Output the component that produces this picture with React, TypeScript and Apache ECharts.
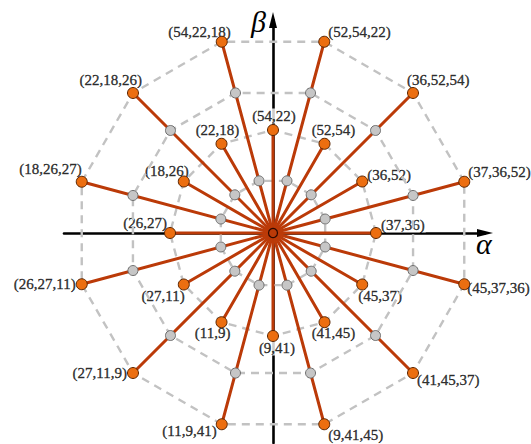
import React, { useEffect, useRef } from "react";
import * as echarts from "echarts";

// Two-element tuples sit on the inner ring, at every 30 degrees starting on the alpha axis.
const innerTuples = [
  "(37,36)", "(36,52)", "(52,54)", "(54,22)", "(22,18)", "(18,26)",
  "(26,27)", "(27,11)", "(11,9)", "(9,41)", "(41,45)", "(45,37)",
];
const innerAngles = [0, 30, 60, 90, 120, 150, 180, 210, 240, 270, 300, 330];

// Three-element tuples sit on the outer ring, halfway between the inner spokes.
const outerTuples = [
  "(37,36,52)", "(36,52,54)", "(52,54,22)", "(54,22,18)", "(22,18,26)", "(18,26,27)",
  "(26,27,11)", "(27,11,9)", "(11,9,41)", "(9,41,45)", "(41,45,37)", "(45,37,36)",
];
const outerAngles = [15, 45, 75, 105, 135, 165, 195, 225, 255, 285, 315, 345];

// Radii of the tuple dots, of the intermediate (grey) dots, and of the axis extents.
const innerRadius = 103;
const outerRadius = 198;
const midRadii = [54, 145];
const alphaRange = [-209, 212];
const betaRange = [-210, 213];

// Label anchoring per point: [align, dx, dy]
const innerLabelPlace: [string, number, number][] = [
  ["left", 4, -8], ["left", 4, -7], ["center", 9, -14], ["center", 1, -14],
  ["center", -4, -14], ["right", 6, -11], ["right", -2, -10], ["right", 2, 11],
  ["right", 10, 11], ["center", 4, 12], ["center", 9, 11], ["left", -5, 11],
];
const outerLabelPlace: [string, number, number][] = [
  ["left", 3, -10], ["left", -7, -13], ["left", 3, -10], ["right", 10, -10],
  ["right", 10, -13], ["right", 1, -13], ["right", -5, 0], ["right", -5, 0],
  ["right", -4, 7], ["left", 3, 11], ["left", 3, 7], ["left", 2, 4],
];

const SPOKE = "#bb3a08";
const ORANGE = "#ec6e10";
const ORANGE_EDGE = "#5a2400";
const GREY = "#c6c6c6";
const GREY_EDGE = "#6e6e6e";
const DASH = "#c2c2c2";
const FONT = "'Liberation Serif', 'Times New Roman', serif";

export default function App() {
  const ref = useRef<HTMLDivElement>(null);

  useEffect(() => {
    if (!ref.current) return;
    const chart = echarts.init(ref.current, null, { renderer: "svg" });

    const series: any[] = [];

    // dashed dodecagons
    const rings: { r: number; angles: number[] }[] = [
      { r: midRadii[0], angles: outerAngles },
      { r: innerRadius, angles: innerAngles },
      { r: midRadii[1], angles: outerAngles },
      { r: outerRadius, angles: outerAngles },
    ];
    rings.forEach(({ r, angles }) => {
      series.push({
        type: "line",
        coordinateSystem: "polar",
        data: [...angles.map((a) => [r, a]), [r, angles[0]]],
        symbol: "none",
        silent: true,
        z: 2,
        lineStyle: { color: DASH, width: 2.4, type: [8, 6] },
      });
    });

    // spokes
    const spoke = (r: number, a: number) => ({
      type: "line",
      coordinateSystem: "polar",
      data: [[0, a], [r, a]],
      symbol: "none",
      silent: true,
      z: 3,
      lineStyle: { color: SPOKE, width: 3, cap: "round" },
    });
    innerAngles.forEach((a) => series.push(spoke(innerRadius, a)));
    outerAngles.forEach((a) => series.push(spoke(outerRadius, a)));

    // grey intermediate dots
    series.push({
      type: "scatter",
      coordinateSystem: "polar",
      data: midRadii.flatMap((r) => outerAngles.map((a) => [r, a])),
      symbolSize: 10,
      z: 4,
      itemStyle: { color: GREY, borderColor: GREY_EDGE, borderWidth: 1, opacity: 1 },
    });

    // tuple dots
    series.push({
      type: "scatter",
      coordinateSystem: "polar",
      data: [
        ...innerAngles.map((a) => [innerRadius, a]),
        ...outerAngles.map((a) => [outerRadius, a]),
      ],
      symbolSize: 11,
      z: 4,
      itemStyle: { color: ORANGE, borderColor: ORANGE_EDGE, borderWidth: 1, opacity: 1 },
    });

    // hub
    series.push({
      type: "scatter",
      coordinateSystem: "polar",
      data: [[0, 0]],
      symbolSize: 9,
      z: 5,
      itemStyle: { color: SPOKE, borderColor: "#2a0800", borderWidth: 1.2, opacity: 1 },
    });

    // tuple labels
    const labelItems = [
      ...innerTuples.map((t, i) => ({
        name: t,
        value: [innerRadius, innerAngles[i]],
        place: innerLabelPlace[i],
      })),
      ...outerTuples.map((t, i) => ({
        name: t,
        value: [outerRadius, outerAngles[i]],
        place: outerLabelPlace[i],
      })),
    ];
    series.push({
      type: "scatter",
      coordinateSystem: "polar",
      symbolSize: 2,
      z: 1,
      silent: true,
      itemStyle: { color: "rgba(0,0,0,0)" },
      label: {
        show: true,
        position: "inside",
        formatter: "{b}",
        color: "#000",
        textBorderWidth: 0.35,
        textBorderColor: "#000",
        fontFamily: FONT,
        fontSize: 15,
        lineHeight: 15,
        verticalAlign: "middle",
        backgroundColor: "#fff",
        padding: [0, 1],
      },
      data: labelItems.map((d) => ({
        name: d.name,
        value: d.value,
        label: { align: d.place[0], offset: [d.place[1], d.place[2]] },
      })),
    });

    const axisCommon = {
      type: "value",
      axisTick: { show: false },
      axisLabel: { show: false },
      splitLine: { show: false },
      axisLine: {
        show: true,
        onZero: true,
        symbol: ["none", "triangle"],
        symbolSize: [8, 16],
        lineStyle: { color: "#000", width: 2.6 },
      },
      z: 0,
    };

    chart.setOption({
      animation: false,
      backgroundColor: "#fff",
      polar: { center: [273, 233], radius: outerRadius },
      angleAxis: {
        type: "value",
        min: 0,
        max: 360,
        startAngle: 0,
        clockwise: false,
        show: false,
      },
      radiusAxis: { type: "value", min: 0, max: outerRadius, show: false },
      grid: { left: 64, top: 20, width: 421, height: 423 },
      xAxis: { ...axisCommon, min: alphaRange[0], max: alphaRange[1] },
      yAxis: { ...axisCommon, min: betaRange[0], max: betaRange[1] },
      graphic: [
        {
          type: "text",
          x: 476,
          y: 243,
          style: {
            text: "α",
            font: `italic 30px ${FONT}`,
            fill: "#000",
            align: "left",
            verticalAlign: "middle",
          },
        },
        {
          type: "text",
          x: 251,
          y: 21,
          style: {
            text: "β",
            font: `italic 30px ${FONT}`,
            fill: "#000",
            align: "left",
            verticalAlign: "middle",
          },
        },
      ],
      series,
    });

    return () => chart.dispose();
  }, []);

  return (
    <div
      ref={ref}
      style={{ position: "absolute", left: 0, top: 0, width: 531, height: 444 }}
    />
  );
}
